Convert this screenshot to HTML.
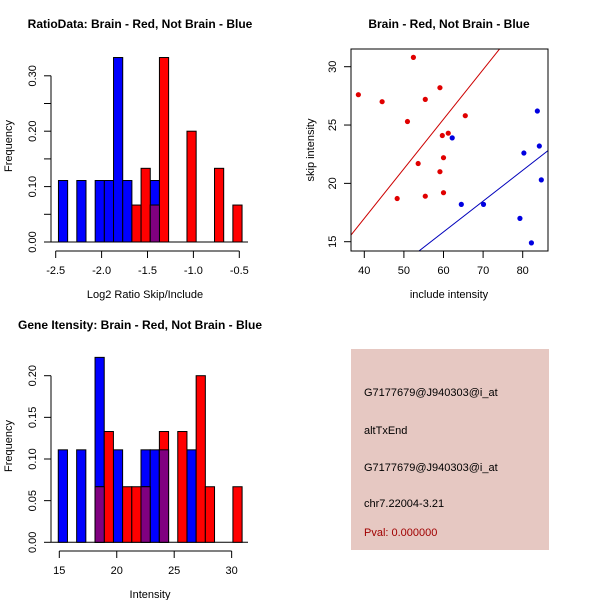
<!DOCTYPE html>
<html><head><meta charset="utf-8"><style>
html,body{margin:0;padding:0;background:#fff}
svg{display:block;font-family:"Liberation Sans",Arial,sans-serif}
</style></head><body>
<svg id="s" width="600" height="600" viewBox="0 0 600 600">
<text x="140" y="28" font-size="12" font-weight="bold" text-anchor="middle">RatioData: Brain - Red, Not Brain - Blue</text>
<text x="449" y="28" font-size="12" font-weight="bold" text-anchor="middle">Brain - Red, Not Brain - Blue</text>
<text x="140" y="329" font-size="12" font-weight="bold" text-anchor="middle">Gene Itensity: Brain - Red, Not Brain - Blue</text>
<text x="145" y="298" font-size="11" text-anchor="middle">Log2 Ratio Skip/Include</text>
<text x="12" y="146" font-size="11" text-anchor="middle" transform="rotate(-90 12 146)">Frequency</text>
<text x="449" y="298" font-size="11" text-anchor="middle">include intensity</text>
<text x="314" y="150" font-size="11" text-anchor="middle" transform="rotate(-90 314 150)">skip intensity</text>
<text x="150" y="598" font-size="11" text-anchor="middle">Intensity</text>
<text x="12" y="446" font-size="11" text-anchor="middle" transform="rotate(-90 12 446)">Frequency</text>
<g>
<rect x="351" y="349" width="198" height="201" fill="#e6c8c2"/>
<text x="364" y="396" font-size="11">G7177679@J940303@i_at</text>
<text x="364" y="434" font-size="11">altTxEnd</text>
<text x="364" y="471" font-size="11">G7177679@J940303@i_at</text>
<text x="364" y="507" font-size="11">chr7.22004-3.21</text>
<text x="364" y="536" font-size="11" fill="#a00000">Pval: 0.000000</text>
</g>
</svg>
<script>
// Ratio histogram data (bin start -2.47, width 0.1)
const ratioBinStart = -2.47, ratioBinWidth = 0.1;
const ratioBlue = [0.111,0,0.111,0,0.111,0.111,0.333,0.111,0,0,0.111,0,0,0,0,0,0,0,0,0];
const ratioRed  = [0,0,0,0,0,0,0,0,0.0667,0.133,0.0667,0.333,0,0,0.2,0,0,0.133,0,0.0667];
const ratioXTicks = [-2.5,-2.0,-1.5,-1.0,-0.5];
const ratioXLabels = ["-2.5","-2.0","-1.5","-1.0","-0.5"];
const ratioYTicks = [0,0.05,0.10,0.15,0.20,0.25,0.30];
const ratioYLabels = ["0.00","","0.10","","0.20","","0.30"];
// Intensity histogram data (bin start 14.91, width 0.8)
const intBinStart = 14.91, intBinWidth = 0.8;
const intBlue = [0.111,0,0.111,0,0.222,0,0.111,0,0,0.111,0.111,0.111,0,0,0.111,0,0,0,0,0];
const intRed  = [0,0,0,0,0.0667,0.133,0,0.0667,0.0667,0.0667,0,0.133,0,0.133,0,0.2,0.0667,0,0,0.0667];
const intXTicks = [15,20,25,30];
const intXLabels = ["15","20","25","30"];
const intYTicks = [0,0.05,0.10,0.15,0.20];
const intYLabels = ["0.00","0.05","0.10","0.15","0.20"];
// Scatter data
const redX = [38.5,44.5,52.4,50.9,55.4,59.1,65.5,59.7,61.2,60.0,53.6,59.1,48.3,55.4,60.0];
const redY = [27.6,27.0,30.8,25.3,27.2,28.2,25.8,24.1,24.3,22.2,21.7,21.0,18.7,18.9,19.2];
const blueX = [62.2,64.5,70.1,79.3,80.3,82.2,83.7,84.2,84.7];
const blueY = [23.9,18.2,18.2,17.0,22.6,14.9,26.2,23.2,20.3];
const redSlope = 0.425, blueSlope = 0.264;
const scXTicks = [40,50,60,70,80];
const scYTicks = [15,20,25,30];

const NS="http://www.w3.org/2000/svg", svg=document.getElementById('s');
function mk(t,a,p){const e=document.createElementNS(NS,t);for(const k in a)e.setAttribute(k,a[k]);(p||svg).appendChild(e);return e;}

function hist(o){
  const g=mk('g',{});
  
  
  const X=v=>o.x0+(v-o.v0)*o.kx, Y=v=>o.y0-v*o.ky;
  mk('line',{x1:o.px1,x2:o.px2,y1:Y(0),y2:Y(0),stroke:'#000'},g);
  const n=o.blue.length;
  const draw=(vals,col,nm)=>{for(let i=0;i<n;i++){const v=vals[i];if(v<=0)continue;
    const xa=X(o.bs+i*o.bw), xb=X(o.bs+(i+1)*o.bw);
    const r=mk('rect',{x:xa,y:Y(v),width:xb-xa,height:Y(0)-Y(v),fill:col,stroke:'#000','stroke-width':1},g);
    
    }};
  draw(o.blue,'#0000ff','blue');
  draw(o.red,'#ff0000','red');
  const ov=o.blue.map((b,i)=>Math.min(b,o.red[i]));
  draw(ov,'#800080','overlap');
  const ya=mk('g',{},g);
  
  
  mk('line',{x1:o.ax,x2:o.ax,y1:Y(o.yt[0]),y2:Y(o.yt[o.yt.length-1]),stroke:'#000'},ya);
  o.yt.forEach((t,i)=>{mk('line',{x1:o.ax,x2:o.ax-7,y1:Y(t),y2:Y(t),stroke:'#000'},ya);
    if(o.yl[i]){const tx=mk('text',{x:o.ax-15,y:Y(t),'font-size':11,'text-anchor':'middle',transform:`rotate(-90 ${o.ax-15} ${Y(t)})`},ya);tx.textContent=o.yl[i];}});
  const xa=mk('g',{},g);
  
  
  mk('line',{x1:X(o.xt[0]),x2:X(o.xt[o.xt.length-1]),y1:o.ay,y2:o.ay,stroke:'#000'},xa);
  o.xt.forEach((t,i)=>{mk('line',{x1:X(t),x2:X(t),y1:o.ay,y2:o.ay+7,stroke:'#000'},xa);
    const tx=mk('text',{x:X(t),y:o.ay+23,'font-size':11,'text-anchor':'middle'},xa);tx.textContent=o.xl[i];});
}
hist({name:'ratio-histogram',blue:ratioBlue,red:ratioRed,bs:ratioBinStart,bw:ratioBinWidth,v0:-2.5,x0:55.7,kx:91.8,y0:242,ky:554,
  px1:51,px2:248,ax:51,ay:251,xt:ratioXTicks,xl:ratioXLabels,yt:ratioYTicks,yl:ratioYLabels});
hist({name:'intensity-histogram',blue:intBlue,red:intRed,bs:intBinStart,bw:intBinWidth,v0:15,x0:59.3,kx:11.49,y0:542.3,ky:833,
  px1:51,px2:248,ax:51,ay:551,xt:intXTicks,xl:intXLabels,yt:intYTicks,yl:intYLabels});

(function(){
  const g=mk('g',{});
  
  
  const L=351,R=548,T=49,B=251;
  const X=v=>364.3+(v-40)*3.96, Y=v=>66.7-(v-30)*11.667;
  mk('clipPath',{id:'cp'},g).appendChild((()=>{const r=document.createElementNS(NS,'rect');r.setAttribute('x',L);r.setAttribute('y',T);r.setAttribute('width',R-L);r.setAttribute('height',B-T);return r;})());
  const xs0=30,xs1=95;
  const rl=mk('line',{x1:X(xs0),y1:Y(redSlope*xs0),x2:X(xs1),y2:Y(redSlope*xs1),stroke:'#cc0000','clip-path':'url(#cp)'},g);
  
  
  const bl=mk('line',{x1:X(xs0),y1:Y(blueSlope*xs0),x2:X(xs1),y2:Y(blueSlope*xs1),stroke:'#0000bb','clip-path':'url(#cp)'},g);
  
  
  redX.forEach((x,i)=>{const c=mk('circle',{cx:X(x),cy:Y(redY[i]),r:2.6,fill:'#e00000'},g);
    
    });
  blueX.forEach((x,i)=>{const c=mk('circle',{cx:X(x),cy:Y(blueY[i]),r:2.6,fill:'#0000e0'},g);
    
    });
  mk('rect',{x:L,y:T,width:R-L,height:B-T,fill:'none',stroke:'#000'},g);
  scXTicks.forEach(t=>{mk('line',{x1:X(t),x2:X(t),y1:B,y2:B+7,stroke:'#000'},g);
    const tx=mk('text',{x:X(t),y:B+23,'font-size':11,'text-anchor':'middle'},g);tx.textContent=t;
    
    });
  scYTicks.forEach(t=>{mk('line',{x1:L,x2:L-7,y1:Y(t),y2:Y(t),stroke:'#000'},g);
    const tx=mk('text',{x:L-15,y:Y(t),'font-size':11,'text-anchor':'middle',transform:`rotate(-90 ${L-15} ${Y(t)})`},g);tx.textContent=t;
    
    });
})();
</script>
</body></html>
